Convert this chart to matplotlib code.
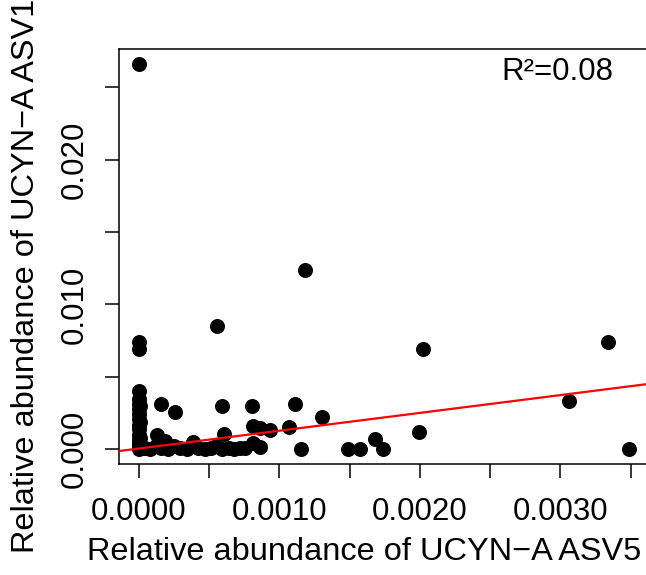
import matplotlib
matplotlib.use("Agg")
import matplotlib.pyplot as plt
import numpy as np

plt.rcParams['font.family'] = ['Liberation Sans', 'DejaVu Sans']

# Relative abundance of UCYN-A ASV5 (x) and ASV1 (y)
asv5 = [
    # column at x = 0
    0, 0, 0, 0, 0, 0, 0, 0, 0, 0, 0, 0, 0, 0, 0, 0,
    0.00001, 0.00001, 0.00001, 0.00001,
    # bottom row
    0.00004, 0.00008, 0.00012, 0.00016, 0.00021, 0.00025, 0.00029, 0.00034,
    0.00038, 0.00042, 0.00047, 0.00051, 0.00055, 0.00059, 0.00064, 0.00068, 0.00072,
    # scattered points
    0.000155, 0.000256, 0.000589, 0.000126, 0.000185, 0.000387, 0.000608,
    0.000803, 0.00111, 0.00130, 0.00081, 0.00086, 0.00093, 0.00107, 0.00081,
    0.00086, 0.000755, 0.00115, 0.00149, 0.00157, 0.00168, 0.00174, 0.00199,
    0.00202, 0.00306, 0.00334, 0.00349, 0.000558, 0.00118,
]
asv1 = [
    0.0266, 0.0074, 0.0069, 0.0040, 0.0035, 0.0031, 0.0028, 0.0024, 0.0021,
    0.0017, 0.0014, 0.0010, 0.0007, 0.0004, 0.0002, 0.0,
    0.0030, 0.0019, 0.0008, 0.0001,
    0.0001, 0.0, 0.0002, 0.0001, 0.0, 0.0002, 0.0001, 0.0, 0.0002,
    0.0001, 0.0, 0.0001, 0.0002, 0.0, 0.0001, 0.0, 0.0001,
    0.0031, 0.0026, 0.0030, 0.00095, 0.00057, 0.00052, 0.00106,
    0.0030, 0.0031, 0.00225, 0.0016, 0.00145, 0.00133, 0.00152, 0.00041,
    0.00016, 0.00007, 0.0, 0.0, 0.0, 0.0007, 0.0, 0.0012,
    0.0069, 0.0033, 0.0074, 0.0, 0.0085, 0.0124,
]

# linear fit shown on the chart
fit_intercept = 0.00005
fit_slope = 1.23
r2_text = "R\u00b2=0.08"

xticks = [0.0, 0.0005, 0.0010, 0.0015, 0.0020, 0.0025, 0.0030, 0.0035]
xticklabels = ["0.0000", "", "0.0010", "", "0.0020", "", "0.0030", ""]
yticks = [0.0, 0.005, 0.010, 0.015, 0.020, 0.025]
yticklabels = ["0.000", "", "0.010", "", "0.020", ""]

W, H = 646, 575
fig = plt.figure(figsize=(W / 100, H / 100), dpi=100)
L, R, T, B = 119, 649, 49.3, 464
ax = fig.add_axes([L / W, 1 - B / H, (R - L) / W, (B - T) / H])

ax.plot(asv5, asv1, linestyle='none', marker='o', markersize=10.8,
        color='black', markeredgewidth=0, zorder=2)

xlim = (-0.000142, 0.00363)
ylim = (-0.00102, 0.02762)
ax.set_xlim(*xlim)
ax.set_ylim(*ylim)
xl = np.array(xlim)
ax.plot(xl, fit_intercept + fit_slope * xl, color='red', linewidth=1.6, zorder=3)

ax.set_xticks(xticks)
ax.set_xticklabels(xticklabels)
ax.set_yticks(yticks)
ax.set_yticklabels(yticklabels, rotation=90, va='center')
ax.tick_params(axis='both', direction='out', length=10, width=1.1,
               labelsize=22.5, color='black')
ax.tick_params(axis='x', pad=14)
ax.tick_params(axis='y', pad=11)
for s in ax.spines.values():
    s.set_linewidth(1.1)

fig.text(613 / W, 1 - 72 / H, r2_text, ha='right', va='center', fontsize=22.5)
fig.text(364 / W, 1 - 552 / H, "Relative abundance of UCYN\u2212A ASV5",
         ha='center', va='center', fontsize=23.4)
fig.text(26 / W, 1 - 276 / H, "Relative abundance of UCYN\u2212A ASV1",
         ha='center', va='center', rotation=90, fontsize=23.4)

fig.savefig("out.png", dpi=100)
